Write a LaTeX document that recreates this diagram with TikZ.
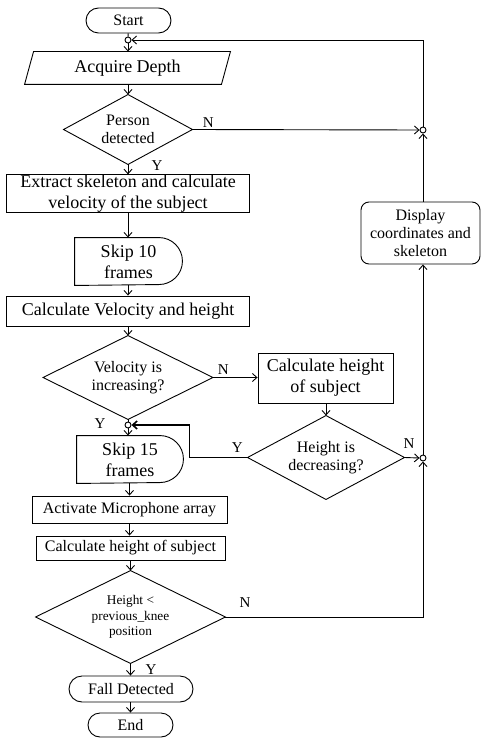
\documentclass[tikz,border=0pt]{standalone}
\usepackage{fontspec}
\setmainfont{Liberation Serif}
\usetikzlibrary{arrows.meta}
\begin{document}
\begin{tikzpicture}[x=1pt,y=-1pt,
  line width=0.9pt,
  >={Straight Barb[length=4.5pt,width=8pt]},
  sz/.style 2 args={minimum width=#1pt, minimum height=#2pt},
  big/.style={font=\fontsize{18}{21}\selectfont},
  mid/.style={font=\fontsize{16}{18}\selectfont},
  sml/.style={font=\fontsize{13.3}{15.5}\selectfont},
  box/.style={draw, rectangle, inner sep=0pt, align=center},
  term/.style={box, rounded corners=#1},
  frame/.style={rectangle, inner sep=0pt, align=center},
  junction/.style={circle, draw, fill=white, inner sep=0pt, minimum size=6pt},
  lbl/.style={font=\fontsize{15}{15}\selectfont, inner sep=0pt},
  thickflow/.style={->, line width=1.6pt},
]
\useasboundingbox (0,0) rectangle (481,738);

% ---------- main column ----------
\node[term=12.5pt, mid, sz={85}{25}] (start) at (128.5,20.5) {Start};
\node[junction] (j1) at (128,40) {};

\node[frame, big, sz={205}{32}] (acq) at (127.5,68) {Acquire Depth};
\draw ([xshift=9pt]acq.north west) -- (acq.north east)
      -- ([xshift=-9pt]acq.south east) -- (acq.south west) -- cycle;

\node[frame, mid, sz={128}{69}] (pd) at (128,129.5) {Person\\detected};
\draw (pd.west) -- (pd.north) -- (pd.east) -- (pd.south) -- cycle;

\node[box, big, sz={243}{33}] (ext) at (128,193.5)
  {Extract skeleton and calculate\\velocity of the subject};

\node[frame, big, sz={107}{47}] (s10) at (128.5,261.5) {Skip 10\\frames};
\draw (s10.north west) -- ([xshift=-23.5pt]s10.north east)
      arc[start angle=90, end angle=-90, radius=23.5pt]
      -- (s10.south west) -- cycle;

\node[box, big, sz={243}{30}] (cvh) at (128,311) {Calculate Velocity and height};

\node[frame, mid, sz={169}{83}] (vi) at (128,377.5) {Velocity is\\increasing?};
\draw (vi.west) -- (vi.north) -- (vi.east) -- (vi.south) -- cycle;

\node[junction] (j3) at (128,425) {};

\node[frame, big, sz={106}{47}] (s15) at (130,459.5) {Skip 15\\frames};
\draw (s15.north west) -- ([xshift=-23.5pt]s15.north east)
      arc[start angle=90, end angle=-90, radius=23.5pt]
      -- (s15.south west) -- cycle;

\node[box, mid, sz={195}{27}] (ama) at (129.5,509.5) {Activate Microphone array};
\node[box, mid, sz={189}{24}] (chs2) at (130.5,548) {Calculate height of subject};

\node[frame, sml, sz={189}{92}] (hp) at (130.5,617) {Height <\\previous\_knee\\position};
\draw (hp.west) -- (hp.north) -- (hp.east) -- (hp.south) -- cycle;

\node[term=13pt, mid, sz={124}{26}] (fall) at (131,689) {Fall Detected};
\node[term=12pt, mid, sz={85}{24}] (end) at (130.5,725) {End};

% ---------- right branch ----------
\node[box, big, sz={135}{50}] (chs) at (325.5,378) {Calculate height\\of subject};

\node[frame, mid, sz={156}{83}] (hd) at (326,457.5) {Height is\\decreasing?};
\draw (hd.west) -- (hd.north) -- (hd.east) -- (hd.south) -- cycle;

\node[term=8pt, mid, sz={119}{62}] (disp) at (420.5,233) {Display\\coordinates and\\skeleton};

\node[junction] (j2) at (423,130) {};
\node[junction] (j4) at (423,458) {};

% ---------- connectors ----------
\draw (start) -- (j1);
\draw[->] (j1.south) -- (j1.south |- acq.north);
\draw[->] (acq.south -| pd.north) -- (pd.north);
\draw[->] (pd.south) -- (pd.south |- ext.north);
\draw[->] (ext.south) -- (ext.south |- s10.north);
\draw[->] (ext.south |- s10.south) -- (ext.south |- cvh.north);
\draw[->] (cvh.south -| vi.north) -- (vi.north);
\draw[->] (vi.east) -- (vi.east -| chs.west);
\draw (vi.south) -- (j3.north);
\draw[->] (j3.south) -- (j3.south |- s15.north);
\draw[->] (ama.north |- s15.south) -- (ama.north);
\draw[->] (ama.south) -- (ama.south |- chs2.north);
\draw[->] (chs2.south -| hp.north) -- (hp.north);
\draw[->] (hp.south) -- (hp.south |- fall.north);
\draw[->] (fall.south -| end.north) -- (end.north);

\draw[->] (chs.south -| hd.north) -- (hd.north);
\draw[thickflow] (hd.west) -- ++(-58,0) |- (j3.east);
\draw[->] (hd.east) -- (j4.west);
\draw[->] (j4.north) -- (j4.north |- disp.south);
\draw[->] (hp.east) -| (j4.south);

\draw[->] (pd.east) -- (j2.west);
\draw[->] (j2.south |- disp.north) -- (j2.south);
\draw[->] (j2.north) |- (j1.east);

% ---------- branch labels ----------
\node[lbl] (n1) at (208.3,122.7) {N};
\node[lbl] (y1) at (157,166) {Y};
\node[lbl] (n2) at (223.3,370) {N};
\node[lbl] (y2) at (100,423.3) {Y};
\node[lbl] (y3) at (237.3,447.3) {Y};
\node[lbl] (n3) at (409,444) {N};
\node[lbl] (n4) at (245,602.7) {N};
\node[lbl] (y4) at (151,669.3) {Y};
\end{tikzpicture}
\end{document}
